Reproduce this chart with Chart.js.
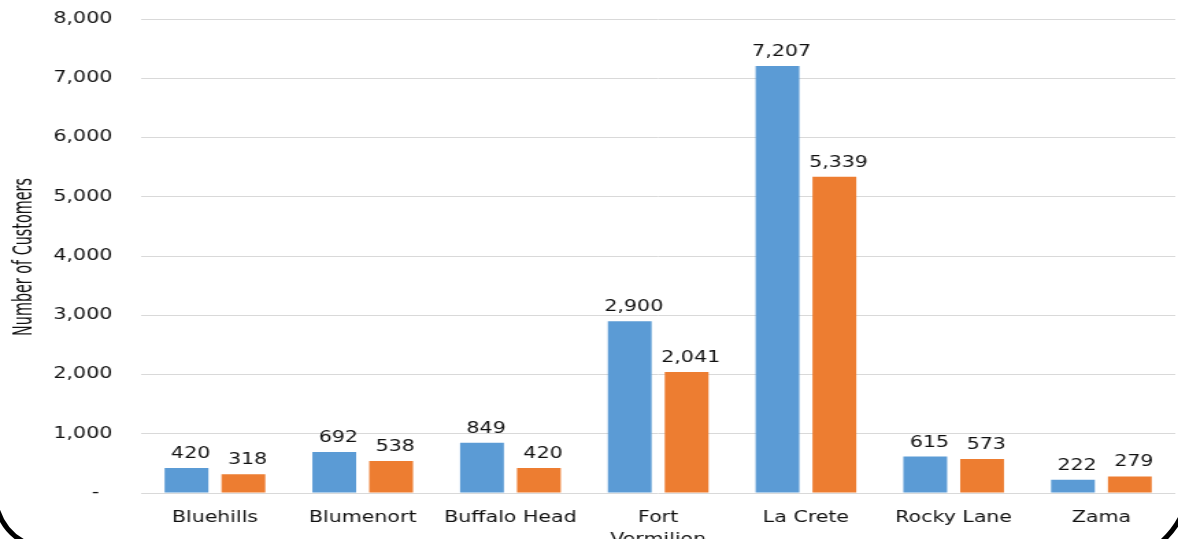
<!DOCTYPE html>
<html>
<head>
<meta charset="utf-8">
<script src="https://cdn.jsdelivr.net/npm/chart.js@4.4.1/dist/chart.umd.min.js"></script>
<style>
  html, body { margin: 0; padding: 0; background: #fff; overflow: hidden; }
  #stage { position: relative; width: 1178px; height: 539px; overflow: hidden; }
  /* the original picture is stretched sideways, so draw narrow and scale up */
  #wrap { position: absolute; left: 0; top: 0; width: 860px; height: 539px;
          transform: scaleX(1.369767); transform-origin: 0 0; }
  #frame { position: absolute; left: 0; top: 0; pointer-events: none; }
</style>
</head>
<body>
<div id="stage">
  <div id="wrap"><canvas id="customers"></canvas></div>
  <svg id="frame" width="1178" height="539">
    <path d="M -4 505 Q 3 532 26 543" fill="none" stroke="#000" stroke-width="5"/>
    <path d="M 1184 510 Q 1176 530 1158 545" fill="none" stroke="#000" stroke-width="5"/>
  </svg>
</div>
<script>
const categories = ['Bluehills', 'Blumenort', 'Buffalo Head', ['Fort', 'Vermilion'], 'La Crete', 'Rocky Lane', 'Zama'];
const seriesBlue = [420, 692, 849, 2900, 7207, 615, 222];
const seriesOrange = [318, 538, 420, 2041, 5339, 573, 279];
const yMax = 8000;
const yStep = 1000;
const yTitle = 'Number of Customers';

Chart.defaults.font.family = '"DejaVu Sans", Verdana, sans-serif';
Chart.defaults.font.size = 15;
Chart.defaults.color = '#111';

// value above every bar
const valueLabels = {
  id: 'valueLabels',
  afterDatasetsDraw(chart) {
    const ctx = chart.ctx;
    ctx.save();
    ctx.font = '15px "DejaVu Sans", Verdana, sans-serif';
    ctx.fillStyle = '#111';
    ctx.textAlign = 'center';
    ctx.textBaseline = 'alphabetic';
    chart.data.datasets.forEach((ds, i) => {
      chart.getDatasetMeta(i).data.forEach((bar, j) => {
        ctx.fillText(ds.data[j].toLocaleString('en-US'), bar.x + 3, bar.y - 10);
      });
    });
    ctx.restore();
  }
};

// narrow rotated axis title
const axisTitle = {
  id: 'axisTitle',
  afterDraw(chart) {
    const ctx = chart.ctx;
    const a = chart.chartArea;
    ctx.save();
    ctx.translate(23.4, (a.top + a.bottom) / 2 + 1);
    ctx.rotate(-Math.PI / 2);
    ctx.scale(0.84, 1);
    ctx.font = '19px "Liberation Sans Narrow", "DejaVu Sans Condensed", sans-serif';
    ctx.fillStyle = '#111';
    ctx.textAlign = 'center';
    ctx.textBaseline = 'alphabetic';
    ctx.fillText(yTitle, 0, 0);
    ctx.restore();
  }
};

new Chart(document.getElementById('customers'), {
  type: 'bar',
  data: {
    labels: categories,
    datasets: [
      { label: 'Series 1', data: seriesBlue, backgroundColor: '#5B9BD5',
        barPercentage: 0.77, categoryPercentage: 0.77 },
      { label: 'Series 2', data: seriesOrange, backgroundColor: '#ED7D31',
        barPercentage: 0.77, categoryPercentage: 0.77 }
    ]
  },
  options: {
    responsive: true,
    maintainAspectRatio: false,
    animation: false,
    layout: { padding: { left: 0, right: 2, top: 19, bottom: 0 } },
    plugins: {
      legend: { display: false },
      tooltip: { enabled: false }
    },
    scales: {
      x: {
        grid: { display: false },
        border: { display: false },
        ticks: { padding: 6, maxRotation: 0, autoSkip: false,
                 font: { size: 15, lineHeight: 1.45 } },
        afterFit: (s) => { s.height = 46; s.paddingLeft = 0; s.paddingRight = 0; }
      },
      y: {
        min: 0,
        max: yMax,
        grid: { color: '#d9d9d9', lineWidth: 1, drawTicks: false },
        border: { display: false },
        ticks: {
          stepSize: yStep,
          padding: 21,
          callback: (v) => v === 0 ? '-  ' : v.toLocaleString('en-US')
        },
        afterFit: (s) => { s.width = 103; s.paddingTop = 0; s.paddingBottom = 0; }
      }
    }
  },
  plugins: [valueLabels, axisTitle]
});
</script>
</body>
</html>
